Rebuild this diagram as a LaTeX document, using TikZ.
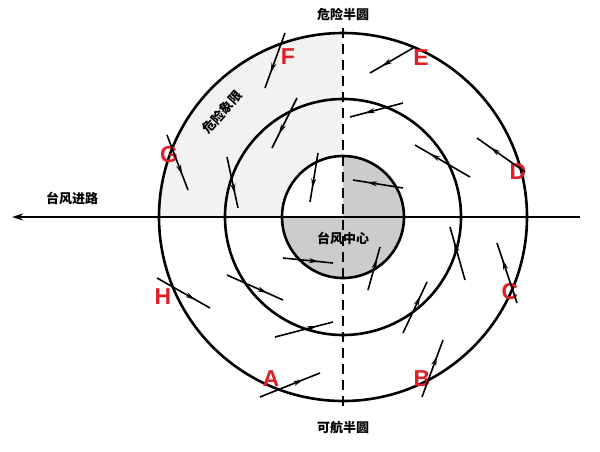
\documentclass[tikz,border=0pt]{standalone}
\usepackage{fontspec}
\newfontfamily\cjk{Noto Sans CJK SC}
\newfontfamily\lat{Liberation Sans}
\usetikzlibrary{decorations.markings,arrows.meta}
\definecolor{lbl}{RGB}{225,30,40}
\tikzset{
  wind/.style={line width=1.6pt,postaction={decorate},decoration={markings,mark=at position 0.72 with {\arrow{Stealth[length=10pt,width=5pt]}}}},
  ring/.style={line width=2.6pt},
  letter/.style={text=lbl,font=\lat\bfseries\fontsize{23}{23}\selectfont},
  cn/.style={font=\cjk\bfseries\fontsize{13}{13}\selectfont}
}
\begin{document}
\begin{tikzpicture}[x=1pt,y=-1pt]
\useasboundingbox[fill=white] (0,0) rectangle (600,451);
\coordinate (O) at (343,217);
% shading
\fill[gray!10] (O) -- (159,217) arc[start angle=180,end angle=270,radius=184] -- cycle;
\fill[gray!40] (O) circle[radius=61];
\fill[white] (O) -- (282,217) arc[start angle=180,end angle=270,radius=61] -- cycle;
% circles
\draw[ring] (O) circle[radius=184];
\draw[ring] (O) circle[radius=118];
\draw[ring] (O) circle[radius=61];
\coordinate (L) at (12,217);
\coordinate (R) at (580,217);
\coordinate (T) at (343,28);
\coordinate (B) at (343,410);
\draw[line width=1.8pt,-{Stealth[length=11pt,width=7pt]}] (R) -- (L);
\draw[line width=1.8pt,dash pattern=on 10pt off 6pt] (T) -- (B);
% labels
\node[cn] (t1) at (343,14) {危险半圆};
\node[cn] (t2) at (343,428) {可航半圆};
\node[cn] (t3) at (72,198) {台风进路};
\node[cn] (t4) at (343,238) {台风中心};
\node[cn,rotate=48,inner sep=0pt] (t5) at (222,112) {危险象限};
\node[letter] (F) at (288,57) {F};
\node[letter] (E) at (421,58) {E};
\node[letter] (D) at (518,172) {D};
\node[letter] (C) at (510,292) {C};
\node[letter] (Bl) at (422,379) {B};
\node[letter] (A) at (271,379) {A};
\node[letter] (H) at (163,297) {H};
\node[letter] (G) at (169,155) {G};
% wind arrows
\foreach \xa/\ya/\xb/\yb in {
 285/33/265/88, 413/48/370/73, 297/98/272/148, 403/103/350/117,
 167/135/188/190, 227/157/238/208, 318/153/310/202, 403/188/353/180,
 157/278/210/308, 227/275/283/300, 283/258/333/263, 260/397/320/373,
 275/337/333/322, 368/290/380/247, 422/397/443/340, 403/333/427/282,
 465/280/450/227, 525/172/477/138, 470/177/415/145, 517/303/497/243}
 \draw[wind] (\xa,\ya) -- (\xb,\yb);
\end{tikzpicture}
\end{document}
